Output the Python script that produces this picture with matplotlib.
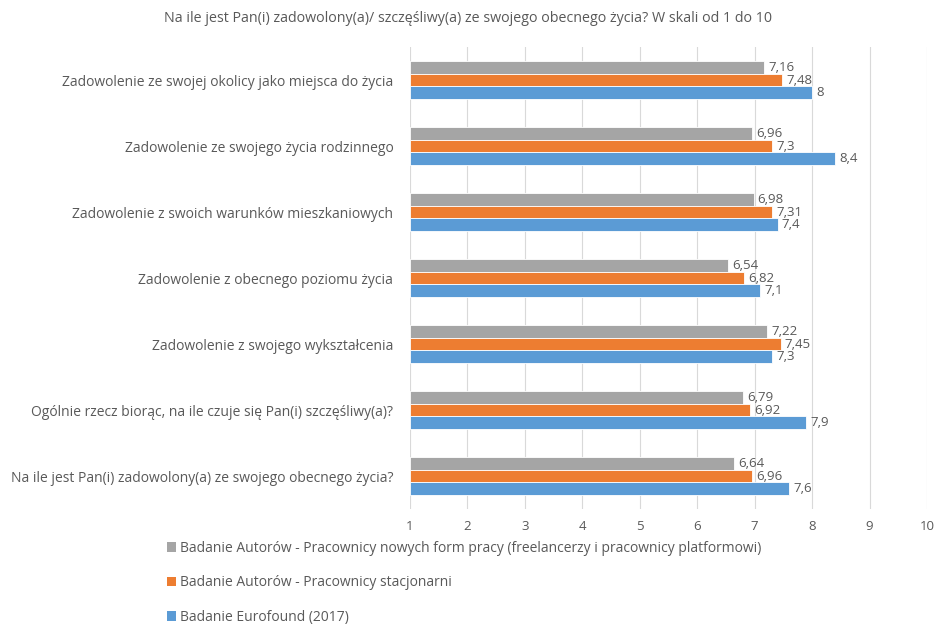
import matplotlib
matplotlib.use("Agg")
import matplotlib.pyplot as plt
from matplotlib.patches import Patch
import numpy as np

categories = [
    "Zadowolenie ze swojej okolicy jako miejsca do życia",
    "Zadowolenie ze swojego życia rodzinnego",
    "Zadowolenie z swoich warunków mieszkaniowych",
    "Zadowolenie z obecnego poziomu życia",
    "Zadowolenie z swojego wykształcenia",
    "Ogólnie rzecz biorąc, na ile czuje się Pan(i) szczęśliwy(a)?",
    "Na ile jest Pan(i) zadowolony(a) ze swojego obecnego życia?",
]
series_names = [
    "Badanie Autorów - Pracownicy nowych form pracy (freelancerzy i pracownicy platformowi)",
    "Badanie Autorów - Pracownicy stacjonarni",
    "Badanie Eurofound (2017)",
]
new_forms = [7.16, 6.96, 6.98, 6.54, 7.22, 6.79, 6.64]
stationary = [7.48, 7.3, 7.31, 6.82, 7.45, 6.92, 6.96]
eurofound = [8, 8.4, 7.4, 7.1, 7.3, 7.9, 7.6]
labels_new = ["7,16", "6,96", "6,98", "6,54", "7,22", "6,79", "6,64"]
labels_stat = ["7,48", "7,3", "7,31", "6,82", "7,45", "6,92", "6,96"]
labels_euro = ["8", "8,4", "7,4", "7,1", "7,3", "7,9", "7,6"]
x_ticks = [1, 2, 3, 4, 5, 6, 7, 8, 9, 10]

colors = ["#a5a5a5", "#ed7d31", "#5b9bd5"]
txt = "#595959"
font = ["Open Sans", "DejaVu Sans"]
plt.rcParams["font.family"] = font

fig = plt.figure(figsize=(9.35, 6.26), dpi=100)
ax = fig.add_axes([410/935, 1-509/626, (927-410)/935, (509-47)/626])

n = len(categories)
y = np.arange(n)
h = 0.195
series = [new_forms, stationary, eurofound]
labs = [labels_new, labels_stat, labels_euro]
for i, (vals, lb, c) in enumerate(zip(series, labs, colors)):
    pos = y + (i - 1) * h
    left = 1
    ax.barh(pos, np.array(vals) - left, left=left, height=h, color=c,
            edgecolor="white", linewidth=0.6, zorder=3)
    for p, v, t in zip(pos, vals, lb):
        ax.annotate(t, (v, p), xytext=(3, 0), textcoords="offset points",
                    ha="left", va="center", fontsize=9.5, color=txt)

ax.set_ylim(n - 0.5, -0.5)
ax.set_xlim(1, 10)
ax.set_xticks(x_ticks)
ax.set_xticklabels([str(t) for t in x_ticks], fontsize=9.5, color=txt)
ax.set_yticks(y)
ax.set_yticklabels(categories, fontsize=10, color=txt)
ax.tick_params(axis="x", length=0, pad=8)
ax.tick_params(axis="y", length=0, pad=12)
ax.grid(axis="x", color="#d9d9d9", linewidth=0.8, zorder=0)
for s in ax.spines.values():
    s.set_visible(False)

fig.text(0.5, 1-18/626, "Na ile jest Pan(i) zadowolony(a)/ szczęśliwy(a) ze swojego obecnego życia? W skali od 1 do 10",
         ha="center", va="center", fontsize=10.3, color=txt)

handles = [Patch(facecolor=c, edgecolor="none") for c in colors]
fig.legend(handles, series_names, loc="upper left", bbox_to_anchor=(161/935, 1-535/626),
           frameon=False, labelspacing=1.42, handlelength=0.7, handleheight=0.7,
           handletextpad=0.3, fontsize=10, labelcolor=txt, borderaxespad=0)

fig.savefig("out.png", dpi=100)
